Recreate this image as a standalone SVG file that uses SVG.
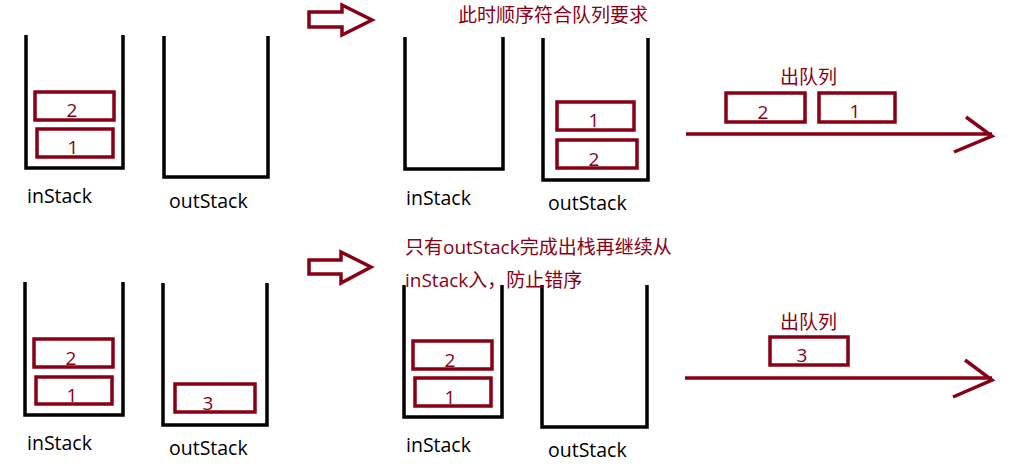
<svg xmlns="http://www.w3.org/2000/svg" width="1017" height="466" viewBox="0 0 1017 466">
<style>
.stack{fill:none;stroke:#000;stroke-width:3.5}
.box{fill:none;stroke:#880015;stroke-width:3.5}
.num{font-family:"Open Sans","Noto Sans",sans-serif;font-size:19px;fill:#880015;text-anchor:middle}
.lbl{font-family:"Open Sans","Noto Sans",sans-serif;font-size:19.5px;fill:#000}
.cn{font-family:"Open Sans","Noto Sans CJK SC",sans-serif;font-size:19px;fill:#880015}
.line{fill:none;stroke:#880015;stroke-width:3.5}
.hollow{fill:#fff;stroke:#880015;stroke-width:3.5;stroke-linejoin:miter}
</style>
<rect width="1017" height="466" fill="#fff"/>

<!-- Row 1 -->
<g id="inStack1">
<path class="stack" d="M26,35 V168 H123 V35"/>
<rect class="box" x="35" y="92" width="79" height="28"/><text class="num" x="72" y="117">2</text>
<rect class="box" x="37" y="129" width="76" height="28"/><text class="num" x="73" y="154">1</text>
<text class="lbl" x="27" y="203">inStack</text>
</g>
<g id="outStack1">
<path class="stack" d="M164,36 V177 H268 V36"/>
<text class="lbl" x="169" y="208">outStack</text>
</g>
<g id="inStack2">
<path class="stack" d="M405,37 V169 H503 V37"/>
<text class="lbl" x="406" y="205">inStack</text>
</g>
<g id="outStack2">
<path class="stack" d="M543,38 V180 H648 V38"/>
<rect class="box" x="557" y="102" width="77" height="28"/><text class="num" x="594" y="127">1</text>
<rect class="box" x="557" y="140" width="80" height="28"/><text class="num" x="594" y="166">2</text>
<text class="lbl" x="548" y="210">outStack</text>
</g>
<g id="note1">
<text class="cn" x="458" y="22">此时顺序符合队列要求</text>
</g>
<g id="dequeue1">
<text class="cn" x="780" y="84">出队列</text>
<rect class="box" x="726" y="93" width="79" height="29"/><text class="num" x="763" y="119">2</text>
<rect class="box" x="819" y="93" width="76" height="29"/><text class="num" x="855" y="118">1</text>
</g>

<!-- Row 2 -->
<g id="inStack3">
<path class="stack" d="M25,282 V415 H123 V282"/>
<rect class="box" x="34" y="339" width="79" height="28"/><text class="num" x="71" y="365">2</text>
<rect class="box" x="36" y="377" width="76" height="27"/><text class="num" x="72" y="402">1</text>
<text class="lbl" x="27" y="450">inStack</text>
</g>
<g id="outStack3">
<path class="stack" d="M163,283 V425 H267 V283"/>
<rect class="box" x="175" y="384" width="80" height="28"/><text class="num" x="208" y="410">3</text>
<text class="lbl" x="169" y="455">outStack</text>
</g>
<g id="inStack4">
<path class="stack" d="M404,285 V417 H502 V285"/>
<rect class="box" x="413" y="341" width="79" height="28"/><text class="num" x="450" y="367">2</text>
<rect class="box" x="415" y="378" width="76" height="28"/><text class="num" x="450" y="404">1</text>
<text class="lbl" x="406" y="452">inStack</text>
</g>
<g id="outStack4">
<path class="stack" d="M542,285 V427 H647 V285"/>
<text class="lbl" x="548" y="457">outStack</text>
</g>
<g id="note2">
<text class="cn" x="405" y="254">只有outStack完成出栈再继续从</text>
<text class="cn" x="405" y="287">inStack入，防止错序</text>
</g>
<g id="dequeue2">
<text class="cn" x="780" y="329">出队列</text>
<rect class="box" x="770" y="337" width="78" height="28"/><text class="num" x="802" y="362">3</text>
</g>

<g id="connectors">
<path class="hollow" d="M309,12 H342 V5 L372,20 L342,35 V27 H309 Z"/>
<path class="hollow" d="M309,260 H341 V252 L371,267 L341,283 V274 H309 Z"/>
<path class="line" d="M686,134 H992 M966,117 L992,136 L954,152"/>
<path class="line" d="M685,378 H992 M965,360 L992,380 L953,397"/>
</g>
</svg>
